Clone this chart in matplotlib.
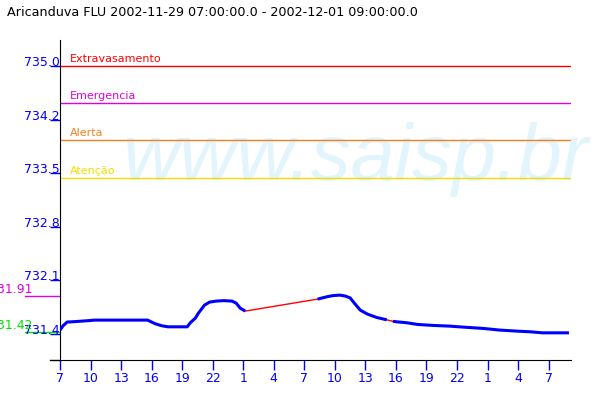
import numpy as np
import matplotlib
matplotlib.use("Agg")
import matplotlib.pyplot as plt

title = "Aricanduva FLU 2002-11-29 07:00:00.0 - 2002-12-01 09:00:00.0"

# hours since 2002-11-29 07:00 and water level (m)
hours = [0, 0.3, 0.7, 1.5, 2.9, 3.4, 8.6, 9.0, 9.4, 10.0, 10.6, 12.5, 12.8, 13.3,
         13.6, 13.9, 14.2, 14.7, 15.3, 16.1, 16.9, 17.3, 17.7, 18.2,
         25.3, 25.7, 26.3, 26.8, 27.5, 28.0, 28.5, 29.0, 29.5, 30.2, 31.1, 32.1,
         32.7, 33.1, 34.1, 35.1, 36.6, 38.3, 39.6, 41.6, 43.2, 44.9, 46.2, 47.4, 50.0]
levels = [731.45, 731.51, 731.56, 731.566, 731.58, 731.586, 731.586, 731.56, 731.535,
          731.51, 731.496, 731.496, 731.55, 731.613, 731.68, 731.734, 731.788, 731.828,
          731.841, 731.848, 731.841, 731.815, 731.747, 731.707,
          731.868, 731.882, 731.902, 731.915, 731.922, 731.91, 731.885, 731.80, 731.72,
          731.667, 731.622, 731.59,
          731.57, 731.563, 731.55, 731.528, 731.515, 731.505, 731.492, 731.474, 731.452,
          731.438, 731.429, 731.415, 731.415]
# index of last reading before a data gap (gap drawn as red straight line)
gap_after = [23, 35]

thresholds = [735.0, 734.5, 734.0, 733.5]
threshold_names = ["Extravasamento", "Emergencia", "Alerta", "Atenção"]
threshold_colors = ["#ff0000", "#e000e0", "#f08020", "#f5dc00"]

ytick_vals = [731.4, 732.12, 732.84, 733.56, 734.28, 735.0]
ytick_labels = ["731.4", "732.1", "732.8", "733.5", "734.2", "735.0"]
xtick_hours = list(range(0, 49, 3))
xtick_labels = [str((7 + h) % 24) for h in xtick_hours]

max_level, min_level = 731.91, 731.42

fig = plt.figure(figsize=(6, 4), dpi=100)
ax = fig.add_axes([60 / 600, 40 / 400, 511 / 600, 320 / 400])
ax.set_xlim(0, 50.2)
ax.set_ylim(731.05, 735.35)

# watermark
ax.text(122 / 600, 1 - 180 / 400, "www.saisp.br", transform=fig.transFigure,
        family="Liberation Sans", style="italic", fontsize=57, color="#e2f5fc",
        va="baseline", ha="left", zorder=0)

for val, name, col in zip(thresholds, threshold_names, threshold_colors):
    ax.axhline(val, color=col, lw=1, zorder=2)
    ax.annotate(name, (10 / 511, val), xytext=(0, 3), textcoords="offset points",
                color=col, fontsize=8, xycoords=ax.get_yaxis_transform(),
                va="baseline", ha="left")

h = np.array(hours)
lv = np.array(levels)
# red straight segments across missing data
for i in gap_after:
    ax.plot(h[i:i + 2], lv[i:i + 2], color="#ff0000", lw=1, zorder=3)
starts = [0] + [i + 1 for i in gap_after]
ends = [i + 1 for i in gap_after] + [len(h)]
for s, e in zip(starts, ends):
    ax.plot(h[s:e], lv[s:e], color="#0000ff", lw=2.2, zorder=4, solid_capstyle="butt")

# axes styling
for side in ["top", "right"]:
    ax.spines[side].set_visible(False)
ax.spines["left"].set_color("black")
ax.spines["bottom"].set_color("black")
ax.plot([-10 / 511, 0], [0, 0], transform=ax.transAxes, color="black", lw=1, clip_on=False)

ax.set_xticks(xtick_hours)
ax.set_xticklabels(xtick_labels)
ax.tick_params(axis="x", colors="#0000ff", length=7, width=1, pad=2, labelsize=9)
ax.set_yticks(ytick_vals)
ax.set_yticklabels([])
ax.tick_params(axis="y", colors="#0000ff", length=7, width=1)
for v, lab in zip(ytick_vals, ytick_labels):
    ax.text(0, v, lab, color="#0000ff", fontsize=9, ha="right", va="baseline",
            transform=ax.get_yaxis_transform())

# max / min markers at left
for val, col in [(max_level, "#e000e0"), (min_level, "#00e000")]:
    ax.plot([-35 / 511, 0], [val, val], color=col, lw=1, clip_on=False,
            transform=ax.get_yaxis_transform())
    ax.text(-28 / 511, val, f"{val:.2f}", color=col, fontsize=9, ha="right", va="bottom",
            transform=ax.get_yaxis_transform(), clip_on=False)

fig.text(7 / 600, 1 - 12 / 400, title, fontsize=9.2, va="center", ha="left")

fig.savefig("out.png", dpi=100)
